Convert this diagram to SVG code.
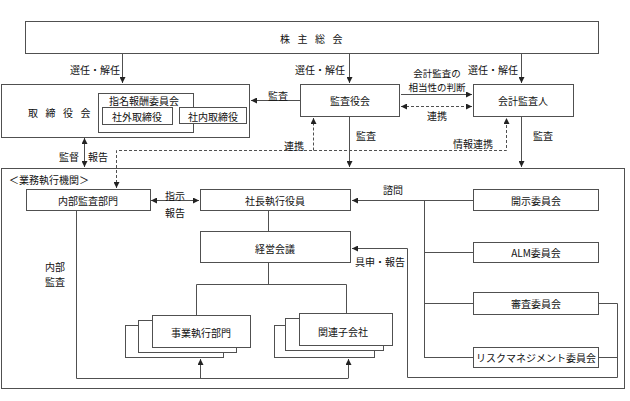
<svg xmlns="http://www.w3.org/2000/svg" width="630" height="401" viewBox="0 0 630 401">
<style>
.b{fill:#fff;stroke:#505050;stroke-width:1}
.l{fill:none;stroke:#505050;stroke-width:1}
.d{fill:none;stroke:#505050;stroke-width:1;stroke-dasharray:3,2}
text{font-family:"Noto Sans CJK JP","Liberation Sans",sans-serif;font-size:10px;fill:#111;dominant-baseline:central}
.c{text-anchor:middle}
.w{letter-spacing:7.5px}
.s{font-size:9.5px}
</style>
<defs>
<marker id="a" viewBox="0 0 8 8" refX="8" refY="4" markerWidth="6" markerHeight="6" markerUnits="userSpaceOnUse" orient="auto-start-reverse"><path d="M0,0L8,4L0,8z" fill="#222"/></marker>
</defs>
<rect width="630" height="401" fill="#fff"/>
<g id="gyomu"><rect class="b" x="1.5" y="168.5" width="623" height="220"/><text x="9" y="179">＜業務執行機関＞</text></g>
<g id="kabunushi"><rect class="b" x="25.5" y="21.5" width="573" height="32"/><text class="c w" x="315" y="38">株主総会</text></g>
<g id="torishimariyaku"><rect class="b" x="1.5" y="84.5" width="248" height="53"/><text class="w" x="28" y="112">取締役会</text>
<rect class="b" x="98.5" y="93.5" width="95" height="39"/><text x="109" y="100">指名報酬委員会</text>
<rect class="b" x="102.5" y="107.5" width="70" height="17"/><text class="c" x="137" y="116">社外取締役</text>
<rect class="b" x="179.5" y="107.5" width="67" height="16"/><text class="c" x="213" y="116">社内取締役</text></g>
<g id="kansayaku"><rect class="b" x="300.5" y="84.5" width="99" height="32"/><text class="c" x="350" y="100">監査役会</text></g>
<g id="kaikei"><rect class="b" x="473.5" y="84.5" width="100" height="32"/><text class="c" x="523" y="100">会計監査人</text></g>
<g id="naibu"><rect class="b" x="26.5" y="189.5" width="124" height="21"/><text class="c" x="88" y="200">内部監査部門</text></g>
<g id="shacho"><rect class="b" x="200.5" y="189.5" width="150" height="21"/><text class="c" x="275" y="200">社長執行役員</text></g>
<g id="keiei"><rect class="b" x="200.5" y="231.5" width="150" height="31"/><text class="c" x="275" y="248">経営会議</text></g>
<g id="jigyo"><rect class="b" x="125.5" y="325.5" width="98" height="32"/><rect class="b" x="138.5" y="320.5" width="98" height="32"/><rect class="b" x="152.5" y="315.5" width="98" height="32"/><text class="c" x="201" y="332">事業執行部門</text></g>
<g id="kanren"><rect class="b" x="274.5" y="325.5" width="100" height="32"/><rect class="b" x="285.5" y="318.5" width="98" height="32"/><rect class="b" x="299.5" y="313.5" width="93" height="32"/><text class="c" x="343" y="331">関連子会社</text></g>
<g id="kaiji"><rect class="b" x="473.5" y="189.5" width="125" height="21"/><text class="c" x="536" y="200">開示委員会</text></g>
<g id="alm"><rect class="b" x="473.5" y="242.5" width="125" height="20"/><text class="c" x="536" y="252">ALM委員会</text></g>
<g id="shinsa"><rect class="b" x="473.5" y="292.5" width="125" height="22"/><text class="c" x="536" y="303">審査委員会</text></g>
<g id="risk"><rect class="b" x="473.5" y="347.5" width="125" height="20"/><text class="c" x="536" y="357">リスクマネジメント委員会</text></g>
<g id="connectors">
<path class="l" d="M122.5,54V83" marker-end="url(#a)"/>
<path class="l" d="M349.5,54V83" marker-end="url(#a)"/>
<path class="l" d="M521.5,54V83" marker-end="url(#a)"/>
<path class="l" d="M300,100.5H251" marker-end="url(#a)"/>
<path class="l" d="M401,94.5H472" marker-end="url(#a)"/>
<path class="d" d="M401,106.5H472" marker-start="url(#a)" marker-end="url(#a)"/>
<path class="l" d="M349.5,117V167" marker-end="url(#a)"/>
<path class="l" d="M521.5,117V167" marker-end="url(#a)"/>
<path class="d" d="M116.5,188V150.5H506.5V118" marker-start="url(#a)" marker-end="url(#a)"/>
<path class="d" d="M313.5,150.5V118" marker-end="url(#a)"/>
<path class="l" d="M84.5,138V167" marker-start="url(#a)" marker-end="url(#a)"/>
<path class="l" d="M151,200.5H199" marker-start="url(#a)" marker-end="url(#a)"/>
<path class="l" d="M268.5,211V231"/>
<path class="l" d="M268.5,263V284.5M196.5,315V284.5H346.5V313"/>
<path class="l" d="M76.5,211V378.5H348.5"/>
<path class="l" d="M200.5,378V359" marker-end="url(#a)"/>
<path class="l" d="M348.5,378V359" marker-end="url(#a)"/>
<path class="l" d="M473,200.5H352" marker-end="url(#a)"/>
<path class="l" d="M424.5,200.5V357.5M424,252.5H473M424,303.5H473M424,357.5H473"/>
<path class="l" d="M599,303.5H617.5V377.5H407.5V248.5H352" marker-end="url(#a)"/>
<path class="l" d="M599,357.5H617.5"/>
<text class="c" x="95" y="69">選任・解任</text>
<text class="c" x="320" y="69">選任・解任</text>
<text class="c" x="493" y="69">選任・解任</text>
<text class="c" x="278" y="95">監査</text>
<text class="c s" x="437" y="73">会計監査の</text>
<text class="c s" x="437" y="87">相当性の判断</text>
<text class="c" x="437" y="115">連携</text>
<text class="c" x="366" y="135">監査</text>
<text class="c" x="543" y="135">監査</text>
<text class="c" x="294" y="145">連携</text>
<text class="c" x="473" y="143">情報連携</text>
<text class="c" x="69" y="156">監督</text>
<text class="c" x="98" y="156">報告</text>
<text class="c" x="175" y="195">指示</text>
<text class="c" x="175" y="212">報告</text>
<text class="c" x="393" y="189">諮問</text>
<text class="c" x="380" y="261">具申・報告</text>
<text class="c" x="55" y="266">内部</text>
<text class="c" x="55" y="281">監査</text>
</g>
</svg>
